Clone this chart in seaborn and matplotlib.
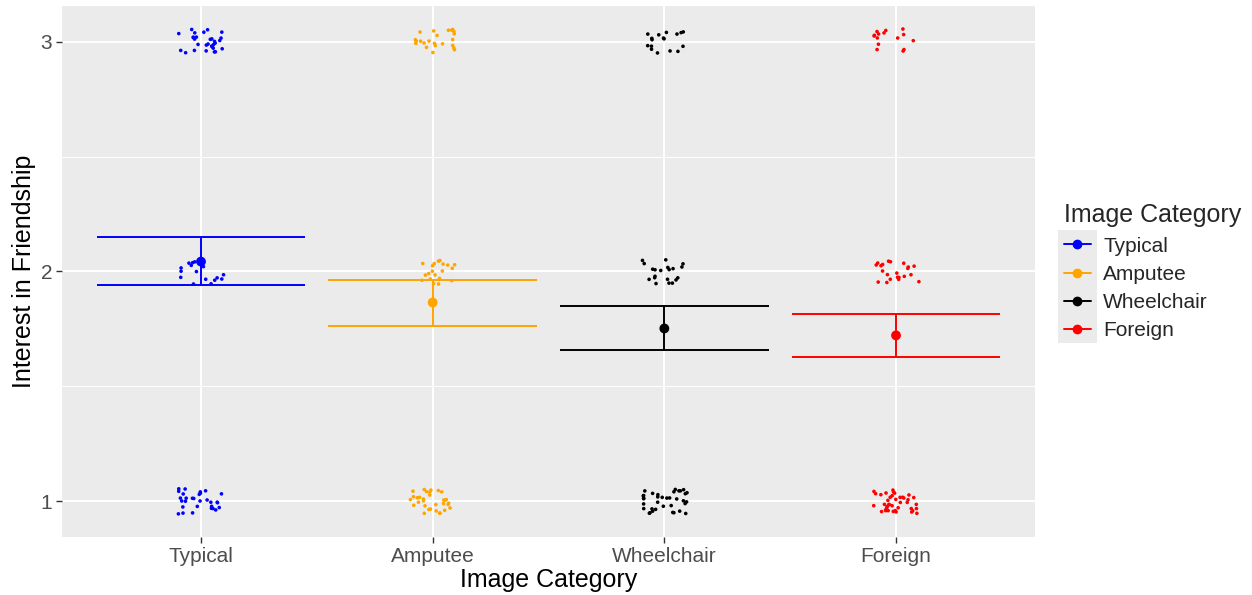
import numpy as np
import pandas as pd
import matplotlib
matplotlib.use("Agg")
import matplotlib.pyplot as plt
from matplotlib.lines import Line2D
from matplotlib.patches import Rectangle
import seaborn as sns

# ---------------- data ----------------
categories = ["Typical", "Amputee", "Wheelchair", "Foreign"]
colors = ["#0000FF", "#FFA500", "#000000", "#FF0000"]
levels = [1, 2, 3]
# number of responses at each level (1, 2, 3) per category
counts_typical = [30, 16, 30]
counts_amputee = [32, 20, 24]
counts_wheelchair = [36, 20, 17]
counts_foreign = [40, 22, 15]
# summary statistics shown as point + error bar
means = [2.043, 1.865, 1.752, 1.722]
lower = [1.939, 1.761, 1.657, 1.626]
upper = [2.148, 1.965, 1.848, 1.817]
y_ticks = [1, 2, 3]

all_counts = [counts_typical, counts_amputee, counts_wheelchair, counts_foreign]
rows = []
for cat, cnts in zip(categories, all_counts):
    for lev, n in zip(levels, cnts):
        rows += [(cat, lev)] * n
df = pd.DataFrame(rows, columns=["Image Category", "Interest"])

# vertical jitter like geom_jitter (display only)
rng = np.random.default_rng(7)
df["y_jit"] = df["Interest"] + rng.uniform(-0.055, 0.055, len(df))
np.random.seed(11)

# ---------------- style ----------------
sns.set_theme(style="darkgrid", rc={
    "axes.facecolor": "#EBEBEB",
    "grid.color": "white",
    "axes.edgecolor": "#EBEBEB",
})
plt.rcParams["font.family"] = ["Liberation Sans", "DejaVu Sans"]

fig = plt.figure(figsize=(12.52, 5.95), dpi=100)
ax = fig.add_axes([0.0495, 0.0975, 0.7772, 0.8925])

pal = dict(zip(categories, colors))
sns.stripplot(data=df, x="Image Category", y="y_jit", hue="Image Category",
              order=categories, hue_order=categories, palette=pal,
              jitter=0.1, size=2.6, linewidth=0, legend=False, ax=ax, zorder=3)

pos = np.arange(len(categories))
ax.vlines(pos, lower, upper, colors=colors, linewidth=1.4, zorder=4)
ax.hlines(lower, pos - 0.45, pos + 0.45, colors=colors, linewidth=1.4, zorder=4)
ax.hlines(upper, pos - 0.45, pos + 0.45, colors=colors, linewidth=1.4, zorder=4)
ax.scatter(pos, means, c=colors, s=50, zorder=5, linewidths=0)

ax.set_xlim(-0.6, len(categories) - 0.4)
ax.set_ylim(0.845, 3.155)
ax.set_yticks(y_ticks)
ax.set_yticklabels([str(t) for t in y_ticks])
ax.set_yticks([1.5, 2.5], minor=True)
ax.grid(True, which="major", color="white", linewidth=1.4)
ax.grid(True, which="minor", axis="y", color="white", linewidth=0.7)
ax.set_axisbelow(True)
for s in ax.spines.values():
    s.set_visible(False)

ax.tick_params(axis="both", which="major", length=4, width=1, color="#333333",
               labelsize=15, labelcolor="#4D4D4D", pad=3, direction="out",
               bottom=True, left=True)
ax.tick_params(axis="both", which="minor", length=0)
ax.set_xlabel("Image Category", fontsize=18, color="black", labelpad=2)
ax.set_ylabel("Interest in Friendship", fontsize=18, color="black", labelpad=3)

handles = [Line2D([0], [0], color=c, marker="o", markersize=6, linewidth=1.4)
           for c in colors]
leg = fig.legend(handles, categories, title="Image Category",
                 loc="upper left", bbox_to_anchor=(0.843, 0.672),
                 frameon=False, fontsize=15, title_fontsize=18,
                 handlelength=1.3, handletextpad=0.6, labelspacing=0.44,
                 borderaxespad=0, alignment="left")

fig.canvas.draw()
r = fig.canvas.get_renderer()
boxes = [h.get_window_extent(r) for h in leg.legend_handles]
x0 = min(b.x0 for b in boxes) - 2
x1 = max(b.x1 for b in boxes) + 2
yc_lo = min((b.y0 + b.y1) / 2 for b in boxes)
yc_hi = max((b.y0 + b.y1) / 2 for b in boxes)
step = (yc_hi - yc_lo) / (len(boxes) - 1)
fig.patches.append(Rectangle((x0, yc_lo - step / 2), x1 - x0,
                             yc_hi - yc_lo + step, transform=None,
                             facecolor="#EBEBEB", edgecolor="none", zorder=1))

fig.savefig("out.png", dpi=100)
